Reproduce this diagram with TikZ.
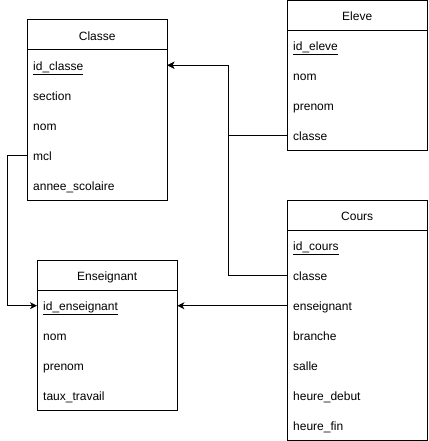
\documentclass[tikz,border=0pt]{standalone}
\usepackage{fontspec}
\setmainfont{Liberation Sans}
\usetikzlibrary{arrows.meta}
\tikzset{
  tablebox/.style={draw=black, line width=1pt},
  headtext/.style={minimum width=140pt, minimum height=30pt, inner sep=0pt, text height=11pt, text depth=1pt, anchor=north west, font=\fontsize{12}{14}\selectfont},
  rowtext/.style={text width=128pt, align=left, minimum height=30pt, inner xsep=6pt, inner ysep=0pt, text height=11pt, text depth=1pt, anchor=north west, font=\fontsize{12}{14}\selectfont},
  fk/.style={draw=black, line width=1pt, -{Stealth[length=7pt,width=7pt,inset=2pt]}}
}
\newcommand{\pkey}[1]{\underline{#1}}
\begin{document}
\begin{tikzpicture}[x=1pt,y=-1pt]
\useasboundingbox (0,0) rectangle (428,441);
% Classe
\draw[tablebox] (27,20) rectangle (167,200);
\draw[tablebox] (27,50) -- (167,50);
\node[headtext] (classe) at (27,20) {Classe};
\node[rowtext] (classe-id) at (27,50) {\pkey{id\_classe}};
\node[rowtext] (classe-section) at (27,80) {section};
\node[rowtext] (classe-nom) at (27,110) {nom};
\node[rowtext] (classe-mcl) at (27,140) {mcl};
\node[rowtext] (classe-annee) at (27,170) {annee\_scolaire};
% Eleve
\draw[tablebox] (287,0.5) rectangle (427,150.5);
\draw[tablebox] (287,30.5) -- (427,30.5);
\node[headtext] (eleve) at (287,0.5) {Eleve};
\node[rowtext] (eleve-id) at (287,30.5) {\pkey{id\_eleve}};
\node[rowtext] (eleve-nom) at (287,60.5) {nom};
\node[rowtext] (eleve-prenom) at (287,90.5) {prenom};
\node[rowtext] (eleve-classe) at (287,120.5) {classe};
% Cours
\draw[tablebox] (287,200.5) rectangle (427,440);
\draw[tablebox] (287,230.5) -- (427,230.5);
\node[headtext] (cours) at (287,200.5) {Cours};
\node[rowtext] (cours-id) at (287,230.5) {\pkey{id\_cours}};
\node[rowtext] (cours-classe) at (287,260.5) {classe};
\node[rowtext] (cours-ens) at (287,290.5) {enseignant};
\node[rowtext] (cours-branche) at (287,320.5) {branche};
\node[rowtext] (cours-salle) at (287,350.5) {salle};
\node[rowtext] (cours-hd) at (287,380.5) {heure\_debut};
\node[rowtext] (cours-hf) at (287,410.5) {heure\_fin};
% Enseignant
\draw[tablebox] (37,260.5) rectangle (177,410);
\draw[tablebox] (37,290.5) -- (177,290.5);
\node[headtext] (ens) at (37,260.5) {Enseignant};
\node[rowtext] (ens-id) at (37,290.5) {\pkey{id\_enseignant}};
\node[rowtext] (ens-nom) at (37,320.5) {nom};
\node[rowtext] (ens-prenom) at (37,350.5) {prenom};
\node[rowtext] (ens-taux) at (37,380.5) {taux\_travail};
% connectors
\coordinate (jx) at (228,0);
\coordinate (lx) at (7,0);
\draw[fk] (eleve-classe.west) -- (eleve-classe.west -| jx) |- (classe-id.east);
\draw[fk] (cours-classe.west) -- (cours-classe.west -| jx) |- (classe-id.east);
\draw[fk] (cours-ens.west) -- (ens-id.east);
\draw[fk] (classe-mcl.west) -- (classe-mcl.west -| lx) |- (ens-id.west);
\end{tikzpicture}
\end{document}
